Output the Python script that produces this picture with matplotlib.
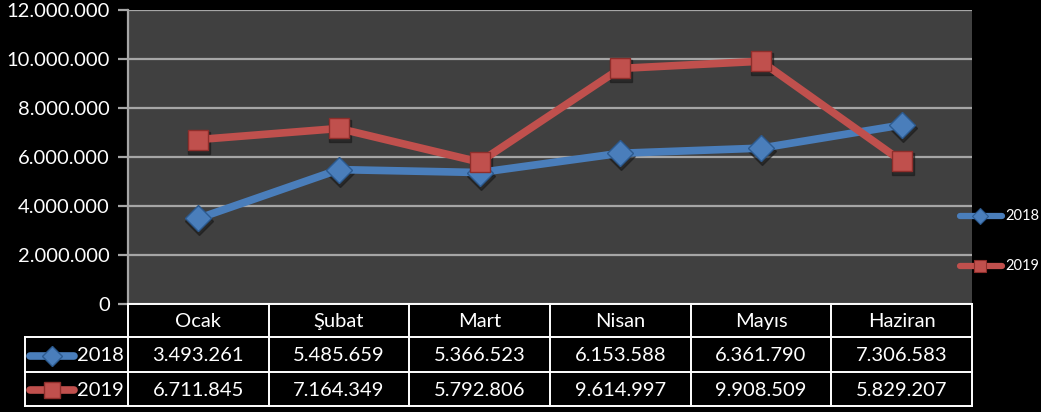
import matplotlib
matplotlib.use("Agg")
import matplotlib.pyplot as plt
import matplotlib.transforms as mtransforms

plt.rcParams['font.family'] = ['Lato', 'DejaVu Sans']

months = ["Ocak", "Şubat", "Mart", "Nisan", "Mayıs", "Haziran"]
series_names = ["2018", "2019"]
values_2018 = [3493261, 5485659, 5366523, 6153588, 6361790, 7306583]
values_2019 = [6711845, 7164349, 5792806, 9614997, 9908509, 5829207]
y_ticks = [0, 2000000, 4000000, 6000000, 8000000, 10000000, 12000000]

colors = ["#4A7EBB", "#C0504D"]
edge_colors = ["#2C5A8F", "#8E2E2B"]
markers = ["D", "s"]
msizes = [13, 15]
FS = 14.5

W, H = 1041, 412
fig = plt.figure(figsize=(W / 100, H / 100), dpi=100, facecolor="black")

# plot area in pixel coordinates
L, R, T, B = 128, 972, 10, 304
ax = fig.add_axes([L / W, (H - B) / H, (R - L) / W, (B - T) / H])
ax.set_facecolor("#404040")
ax.set_xlim(-0.5, len(months) - 0.5)
ax.set_ylim(0, 12000000)
ax.set_yticks(y_ticks)
ax.set_yticklabels([f"{v:,.0f}".replace(",", ".") for v in y_ticks], fontsize=FS)
ax.set_xticks([])
ax.grid(axis="y", color="#A6A6A6", linewidth=1.6, zorder=0)
for s in ["top", "right", "bottom"]:
    ax.spines[s].set_visible(False)
ax.spines["left"].set_color("#A6A6A6")
ax.spines["left"].set_linewidth(1.6)
ax.tick_params(axis="y", colors="#A6A6A6", length=7, width=1.6, pad=6,
               labelcolor="white")

x = list(range(len(months)))
shadow = ax.transData + mtransforms.ScaledTranslation(1 / 100, -3 / 100, fig.dpi_scale_trans)
for vals, c, ec, m, ms in zip([values_2018, values_2019], colors, edge_colors, markers, msizes):
    ax.plot(x, vals, linestyle="none", marker=m, markersize=ms + 1,
            color="#1a1a1a", alpha=0.6, zorder=3, transform=shadow)
    ax.plot(x, vals, color=c, linewidth=5.5, marker=m, markersize=ms,
            markerfacecolor=c, markeredgecolor=ec, markeredgewidth=1.0,
            solid_capstyle="round", zorder=4)

# overlay axes in pixel coordinates for table and legend
ov = fig.add_axes([0, 0, 1, 1], facecolor="none")
ov.set_xlim(0, W)
ov.set_ylim(H, 0)
ov.axis("off")

ncol = len(months)
cw = (R - L) / ncol
row_y = [304, 337, 372, 406]
lc = "white"
lw = 1.4
ov.plot([L, R], [row_y[0], row_y[0]], color=lc, lw=lw)
for yy in row_y[1:]:
    ov.plot([25, R], [yy, yy], color=lc, lw=lw)
ov.plot([25, 25], [row_y[1], row_y[3]], color=lc, lw=lw)
for k in range(ncol + 1):
    ov.plot([L + k * cw, L + k * cw], [row_y[0], row_y[3]], color=lc, lw=lw)

for i, mname in enumerate(months):
    ov.text(L + (i + 0.5) * cw, (row_y[0] + row_y[1]) / 2 + 1, mname,
            ha="center", va="center", color="white", fontsize=FS)
for r, (vals, name, c, ec, m, ms) in enumerate(zip([values_2018, values_2019], series_names,
                                                   colors, edge_colors, markers, msizes)):
    yc = (row_y[r + 1] + row_y[r + 2]) / 2 + 1
    for i, v in enumerate(vals):
        ov.text(L + (i + 0.5) * cw, yc, f"{v:,.0f}".replace(",", "."),
                ha="center", va="center", color="white", fontsize=FS)
    ov.plot([30, 74], [yc, yc], color=c, lw=5.5, solid_capstyle="round")
    ov.plot([52], [yc], marker=m, markersize=ms - 3, color=c,
            markeredgecolor=ec, markeredgewidth=1.0)
    ov.text(77, yc, name, ha="left", va="center", color="white", fontsize=FS)

# legend at right
leg_y = [216, 266]
for yy, name, c, ec, m in zip(leg_y, series_names, colors, edge_colors, markers):
    ov.plot([960, 1002], [yy, yy], color=c, lw=4.5, solid_capstyle="round")
    ov.plot([980], [yy], marker=m, markersize=8, color=c,
            markeredgecolor=ec, markeredgewidth=0.8)
    ov.text(1005, yy, name, ha="left", va="center", color="white", fontsize=10.5)

fig.savefig("out.png", dpi=100, facecolor="black")
